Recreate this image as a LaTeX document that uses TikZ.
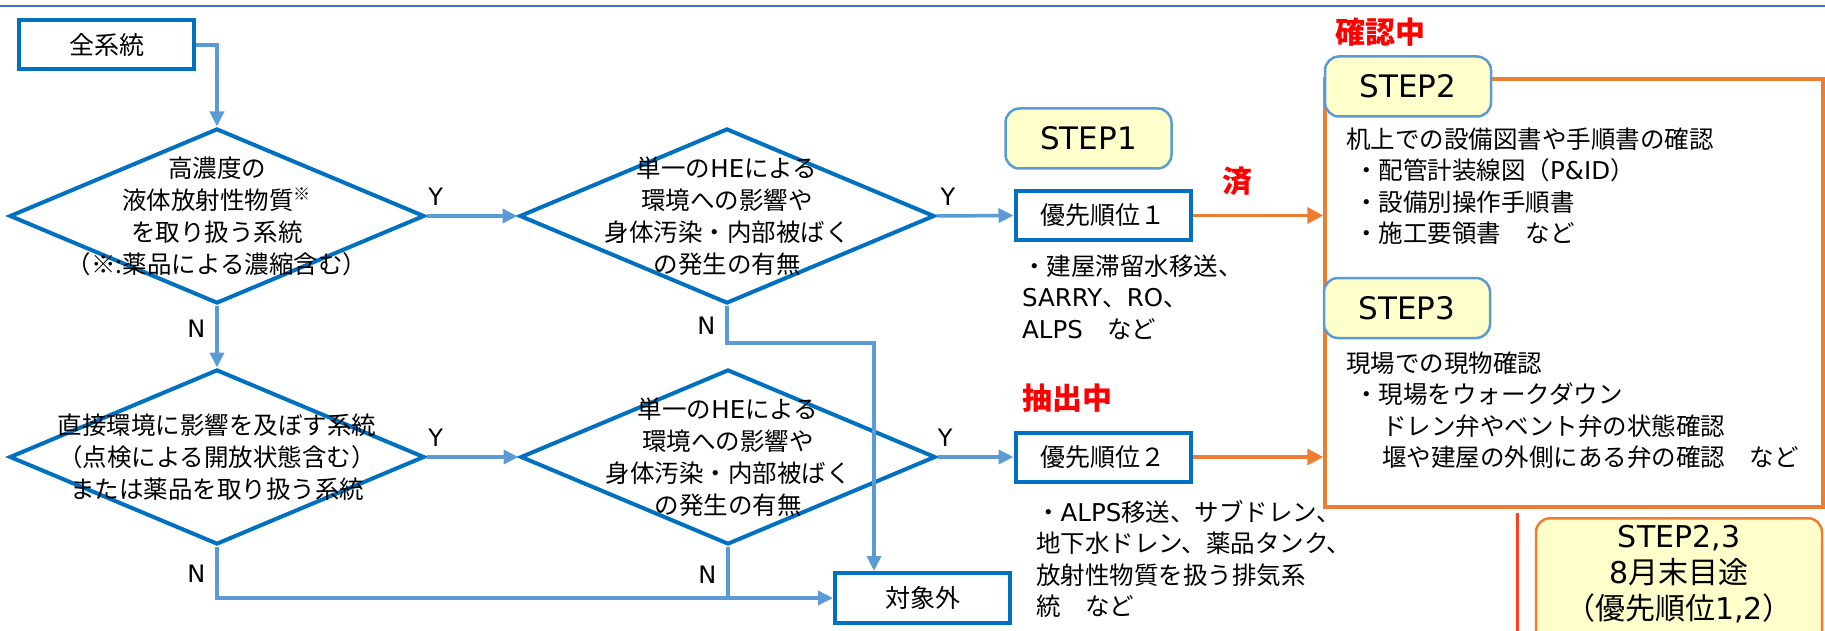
\documentclass[tikz,border=0pt]{standalone}
\usepackage{fontspec}
\setmainfont{Noto Sans CJK JP}
\newfontfamily\engfont{DejaVu Sans}
\newcommand{\eng}[1]{{\engfont #1}}
\usetikzlibrary{arrows.meta}
\usetikzlibrary{shapes.geometric}
\definecolor{dblue}{HTML}{0070C0}
\definecolor{lblue}{HTML}{5B9BD5}
\definecolor{tblue}{HTML}{4472C4}
\definecolor{orng}{HTML}{ED7D31}
\definecolor{pale}{HTML}{FFFFCC}
\definecolor{rline}{HTML}{FF4020}

\begin{document}
\begin{tikzpicture}
[x=1pt,y=-1pt
,bx/.style={draw=dblue,line width=4pt,minimum width=175pt,minimum height=49pt,inner sep=0pt,font=\fontsize{25}{30}\selectfont}
,qn/.style={diamond,draw=dblue,line width=4pt,minimum width=415pt,minimum height=175pt,inner sep=0pt}
,qt/.style={align=center,inner sep=0pt,font=\fontsize{24.5}{32}\selectfont}
,stp/.style={draw=lblue,line width=2.5pt,fill=pale,rounded corners=14pt,minimum width=166pt,minimum height=60pt,font=\engfont\fontsize{31}{36}\selectfont}
,fl/.style={draw=lblue,line width=3.5pt,arrows={-Triangle[length=15pt,width=14pt]}}
,ln/.style={draw=lblue,line width=3.5pt}
,ol/.style={draw=orng,line width=3.5pt,arrows={-Triangle[length=16pt,width=16pt]}}
,yn/.style={font=\engfont\fontsize{24}{24}\selectfont,inner sep=2pt}
,rd/.style={text=red,font=\bfseries\fontsize{30}{30}\selectfont}
,lst/.style={align=left,inner sep=0pt,anchor=west,font=\fontsize{24.5}{31.5}\selectfont}
]
\path[use as bounding box,fill=white] (0,0) rectangle (1825,631);
\draw[tblue,line width=2pt] (0,6) -- (1825,6);
% decision flow
\node[bx] (all) at (106.5,45) {全系統};
\node[qn] (q1) at (217,216) {};
\node[qt] (q1t) at (q1) {高濃度の\\液体放射性物質\textsuperscript{※}\\を取り扱う系統\\（※:薬品による濃縮含む）};
\node[qn] (q2) at (727,216) {};
\node[qt] (q2t) at (q2) {単一の\eng{HE}による\\環境への影響や\\身体汚染・内部被ばく\\の発生の有無};
\node[qn] (q3) at (217,457) {};
\node[qt] (q3t) at (q3) {直接環境に影響を及ぼす系統\\（点検による開放状態含む）\\または薬品を取り扱う系統};
\node[qn] (q4) at (728,457) {};
\node[qt] (q4t) at (q4) {単一の\eng{HE}による\\環境への影響や\\身体汚染・内部被ばく\\の発生の有無};
\node[bx] (p1) at (1103,215.5) {優先順位１};
\node[bx] (p2) at (1103,457) {優先順位２};
\node[bx,minimum height=50pt] (out) at (922.5,598) {対象外};
\coordinate (j1) at (874,343);
\draw[fl] (all.east) -| (q1.north);
\draw[fl] (q1.east) -- node[yn,pos=0.1,above=7pt]{Y} (q2.west);
\draw[fl] (q1.south) -- node[yn,pos=0.37,left=8pt]{N} (q3.north);
\draw[fl] (q3.east) -- node[yn,pos=0.1,above=7pt]{Y} (q4.west);
\draw[fl] (q2.east) -- node[yn,pos=0.15,above=7pt]{Y} (p1.west);
\draw[fl] (q4.east) -- node[yn,pos=0.1,above=7pt]{Y} (p2.west);
\draw[fl] (q2.south) |- node[yn,pos=0.27,left=8pt]{N} (j1) -- (j1 |- out.north);
\draw[fl] (q3.south) |- node[yn,pos=0.26,left=8pt]{N} (out.west);
\draw[ln] (q4.south) -- node[yn,pos=0.54,left=8pt]{N} (q4.south |- out.west);
% steps
\node[draw=orng,line width=3.5pt,minimum width=498pt,minimum height=428pt] (ob) at (1574,293) {};
\node[stp] (s1) at (1088.5,138.5) {STEP1};
\node[stp] (s2) at (1408,86.5) {STEP2};
\node[stp] (s3) at (1407,308) {STEP3};
\draw[ol] (p1.east) -- (p1.east -| ob.west);
\draw[ol] (p2.east) -- (p2.east -| ob.west);
\node[rd] (done) at (1237,181) {済};
\node[rd] (ext) at (1067,398) {抽出中};
\node[rd] (chk) at (1380,32) {確認中};
\node[lst] (l1) at (1022,297) {・建屋滞留水移送、\\\eng{SARRY}、\eng{RO}、\\\eng{ALPS}　など};
\node[lst] (l2) at (1036,559) {・\eng{ALPS}移送、サブドレン、\\地下水ドレン、薬品タンク、\\放射性物質を扱う排気系\\統　など};
\node[lst] (l3) at (1346,186) {机上での設備図書や手順書の確認\\\hspace*{8pt}・配管計装線図（\eng{P\&ID}）\\\hspace*{8pt}・設備別操作手順書\\\hspace*{8pt}・施工要領書　など};
\node[lst] (l4) at (1346,410) {現場での現物確認\\\hspace*{8pt}・現場をウォークダウン\\\hspace*{36pt}ドレン弁やベント弁の状態確認\\\hspace*{36pt}堰や建屋の外側にある弁の確認　など};
\coordinate (rl) at (1517,513);
\draw[rline,line width=3pt] (rl) -- ++(0,130);
\node[stp,draw=orng,anchor=north,minimum width=286pt,align=center,inner ysep=7pt,text depth=32pt,font=\fontsize{30}{36}\selectfont] (s23) at (1679,517) {\eng{STEP2,3}\\\eng{8}月末目途\\（優先順位\eng{1,2}）};
\end{tikzpicture}
\end{document}
